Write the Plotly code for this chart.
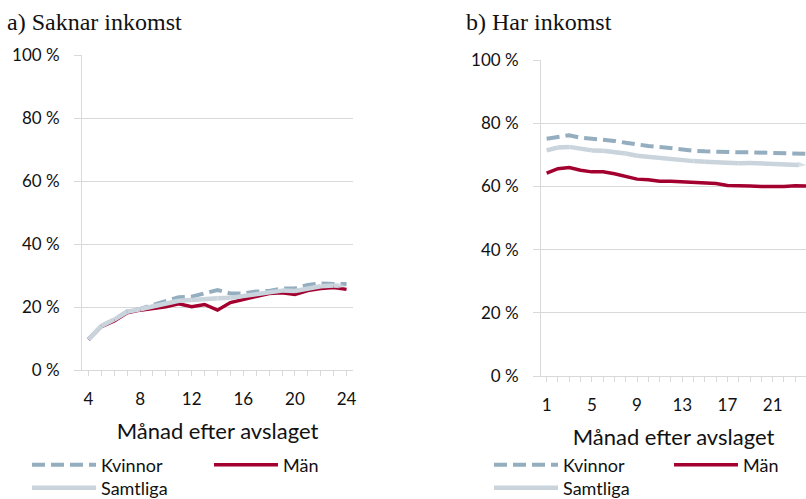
import plotly.graph_objects as go

# ---- data ----
months_a = list(range(4, 25))
kvinnor_a = [9.7, 14.0, 16.0, 18.6, 19.4, 20.6, 22.0, 23.1, 23.3, 24.3, 25.4, 24.3, 24.3,
             24.9, 25.1, 25.9, 25.9, 27.0, 27.5, 27.3, 27.3]
man_a = [9.7, 13.8, 15.6, 18.2, 19.0, 19.6, 20.1, 21.0, 20.1, 20.8, 19.0, 21.4, 22.4,
         23.5, 24.3, 24.5, 24.0, 25.2, 25.9, 26.2, 25.6]
samtliga_a = [9.7, 14.0, 16.0, 18.5, 19.3, 20.2, 21.2, 22.0, 22.2, 22.6, 22.8, 22.9, 23.4,
              24.2, 24.6, 25.2, 25.1, 26.0, 26.6, 26.8, 26.6]

months_b = list(range(1, 25))
kvinnor_b = [75.1, 75.8, 76.2, 75.4, 75.1, 74.9, 74.4, 73.8, 73.2, 72.8, 72.5, 72.0,
             71.6, 71.3, 71.1, 70.9, 70.8, 70.8, 70.8, 70.7, 70.6, 70.4, 70.4, 70.3]
man_b = [64.2, 65.6, 66.0, 65.1, 64.6, 64.6, 64.0, 63.2, 62.3, 62.1, 61.6, 61.6,
         61.4, 61.3, 61.2, 60.9, 60.3, 60.1, 60.1, 60.0, 59.9, 60.0, 60.2, 60.1]
samtliga_b = [71.4, 72.3, 72.5, 71.9, 71.4, 71.3, 70.9, 70.4, 69.7, 69.3, 68.9, 68.7,
              68.3, 68.0, 67.8, 67.6, 67.4, 67.3, 67.4, 67.3, 67.1, 67.0, 67.0, 66.7]

y_ticks = [0, 20, 40, 60, 80, 100]
y_labels = ["0 %", "20 %", "40 %", "60 %", "80 %", "100 %"]
x_ticks_a = [4, 8, 12, 16, 20, 24]
x_ticks_b = [1, 5, 9, 13, 17, 21]

series_names = ["Kvinnor", "Män", "Samtliga"]

# ---- styles ----
C_KV = "#94aebf"
C_MAN = "#a3002f"
C_SAM = "#c9d4dd"
GRID = "#d9d9d9"
TXT = "#111111"
FONT = "Lato"
W, H = 806, 499

fig = go.Figure()

def add_panel(xs, kv, mn, sm, xa, ya, legs):
    fig.add_trace(go.Scatter(x=xs, y=kv, mode="lines", name=series_names[0],
                             line=dict(color=C_KV, width=4, dash="13px,6px"),
                             xaxis=xa, yaxis=ya, legend=legs[0]))
    fig.add_trace(go.Scatter(x=xs, y=mn, mode="lines", name=series_names[1],
                             line=dict(color=C_MAN, width=3.5),
                             xaxis=xa, yaxis=ya, legend=legs[1]))
    sizes = [0] * (len(xs) - 1) + [9]
    fig.add_trace(go.Scatter(x=xs, y=sm, mode="lines+markers", name=series_names[2],
                             line=dict(color=C_SAM, width=4.5),
                             marker=dict(symbol="arrow", angleref="previous", size=sizes,
                                         color=C_SAM, line=dict(width=0)),
                             xaxis=xa, yaxis=ya, legend=legs[2]))

add_panel(months_a, kvinnor_a, man_a, samtliga_a, "x", "y", ["legend", "legend2", "legend3"])
add_panel(months_b, kvinnor_b, man_b, samtliga_b, "x2", "y2", ["legend4", "legend5", "legend6"])

def px_x(p):
    return p / W

def px_y(p):
    return 1 - p / H

xcommon = dict(showgrid=False, showline=True, linecolor=GRID, linewidth=1,
               ticks="outside", ticklen=5, tickcolor=GRID, tickwidth=1,
               tickfont=dict(family=FONT, size=17, color=TXT), ticklabelstandoff=9,
               minor=dict(dtick=1, ticks="outside", ticklen=5, tickcolor=GRID, tickwidth=1, showgrid=False),
               zeroline=False, fixedrange=True,
               title=dict(text="Månad efter avslaget", font=dict(family=FONT, size=22, color=TXT),
                          standoff=15))
ycommon = dict(range=[0, 100], tickvals=y_ticks, ticktext=y_labels,
               showgrid=True, gridcolor=GRID, gridwidth=1,
               showline=True, linecolor=GRID, linewidth=1,
               ticks="outside", ticklen=7, tickcolor=GRID, tickwidth=1,
               tickfont=dict(family=FONT, size=17, color=TXT),
               ticklabelstandoff=11, zeroline=False, fixedrange=True)

fig.update_layout(
    width=W, height=H,
    margin=dict(l=0, r=0, t=0, b=0, autoexpand=False),
    paper_bgcolor="white", plot_bgcolor="white",
    xaxis=dict(domain=[px_x(82), px_x(353)], range=[3.5, 24.5], tickvals=x_ticks_a,
               anchor="y", **xcommon),
    yaxis=dict(domain=[px_y(370), px_y(55)], anchor="x", **ycommon),
    xaxis2=dict(domain=[px_x(541), 1.0], range=[0.5, 23.95], tickvals=x_ticks_b,
                anchor="y2", **xcommon),
    yaxis2=dict(domain=[px_y(376), px_y(60)], anchor="x2", **ycommon),
    showlegend=True,
)

leg_font = dict(family=FONT, size=18, color=TXT)
leg_pos = {
    "legend": (27, 465), "legend2": (209, 465), "legend3": (27, 488),
    "legend4": (489, 465), "legend5": (669, 465), "legend6": (489, 488),
}
for k, (lx, ly) in leg_pos.items():
    fig.update_layout({k: dict(x=px_x(lx), y=px_y(ly), xanchor="left", yanchor="middle",
                               orientation="h", font=leg_font, itemwidth=64,
                               bgcolor="rgba(0,0,0,0)", borderwidth=0)})

fig.add_annotation(text="a) Saknar inkomst", xref="paper", yref="paper",
                   x=px_x(5), y=px_y(22), xanchor="left", yanchor="middle", showarrow=False,
                   font=dict(family="Liberation Serif", size=24, color=TXT))
fig.add_annotation(text="b) Har inkomst", xref="paper", yref="paper",
                   x=px_x(464), y=px_y(22), xanchor="left", yanchor="middle", showarrow=False,
                   font=dict(family="Liberation Serif", size=24, color=TXT))

fig.write_html("out.html", config={"displayModeBar": False},
               post_script="document.body.style.margin='0px';document.body.style.overflow='hidden';")
